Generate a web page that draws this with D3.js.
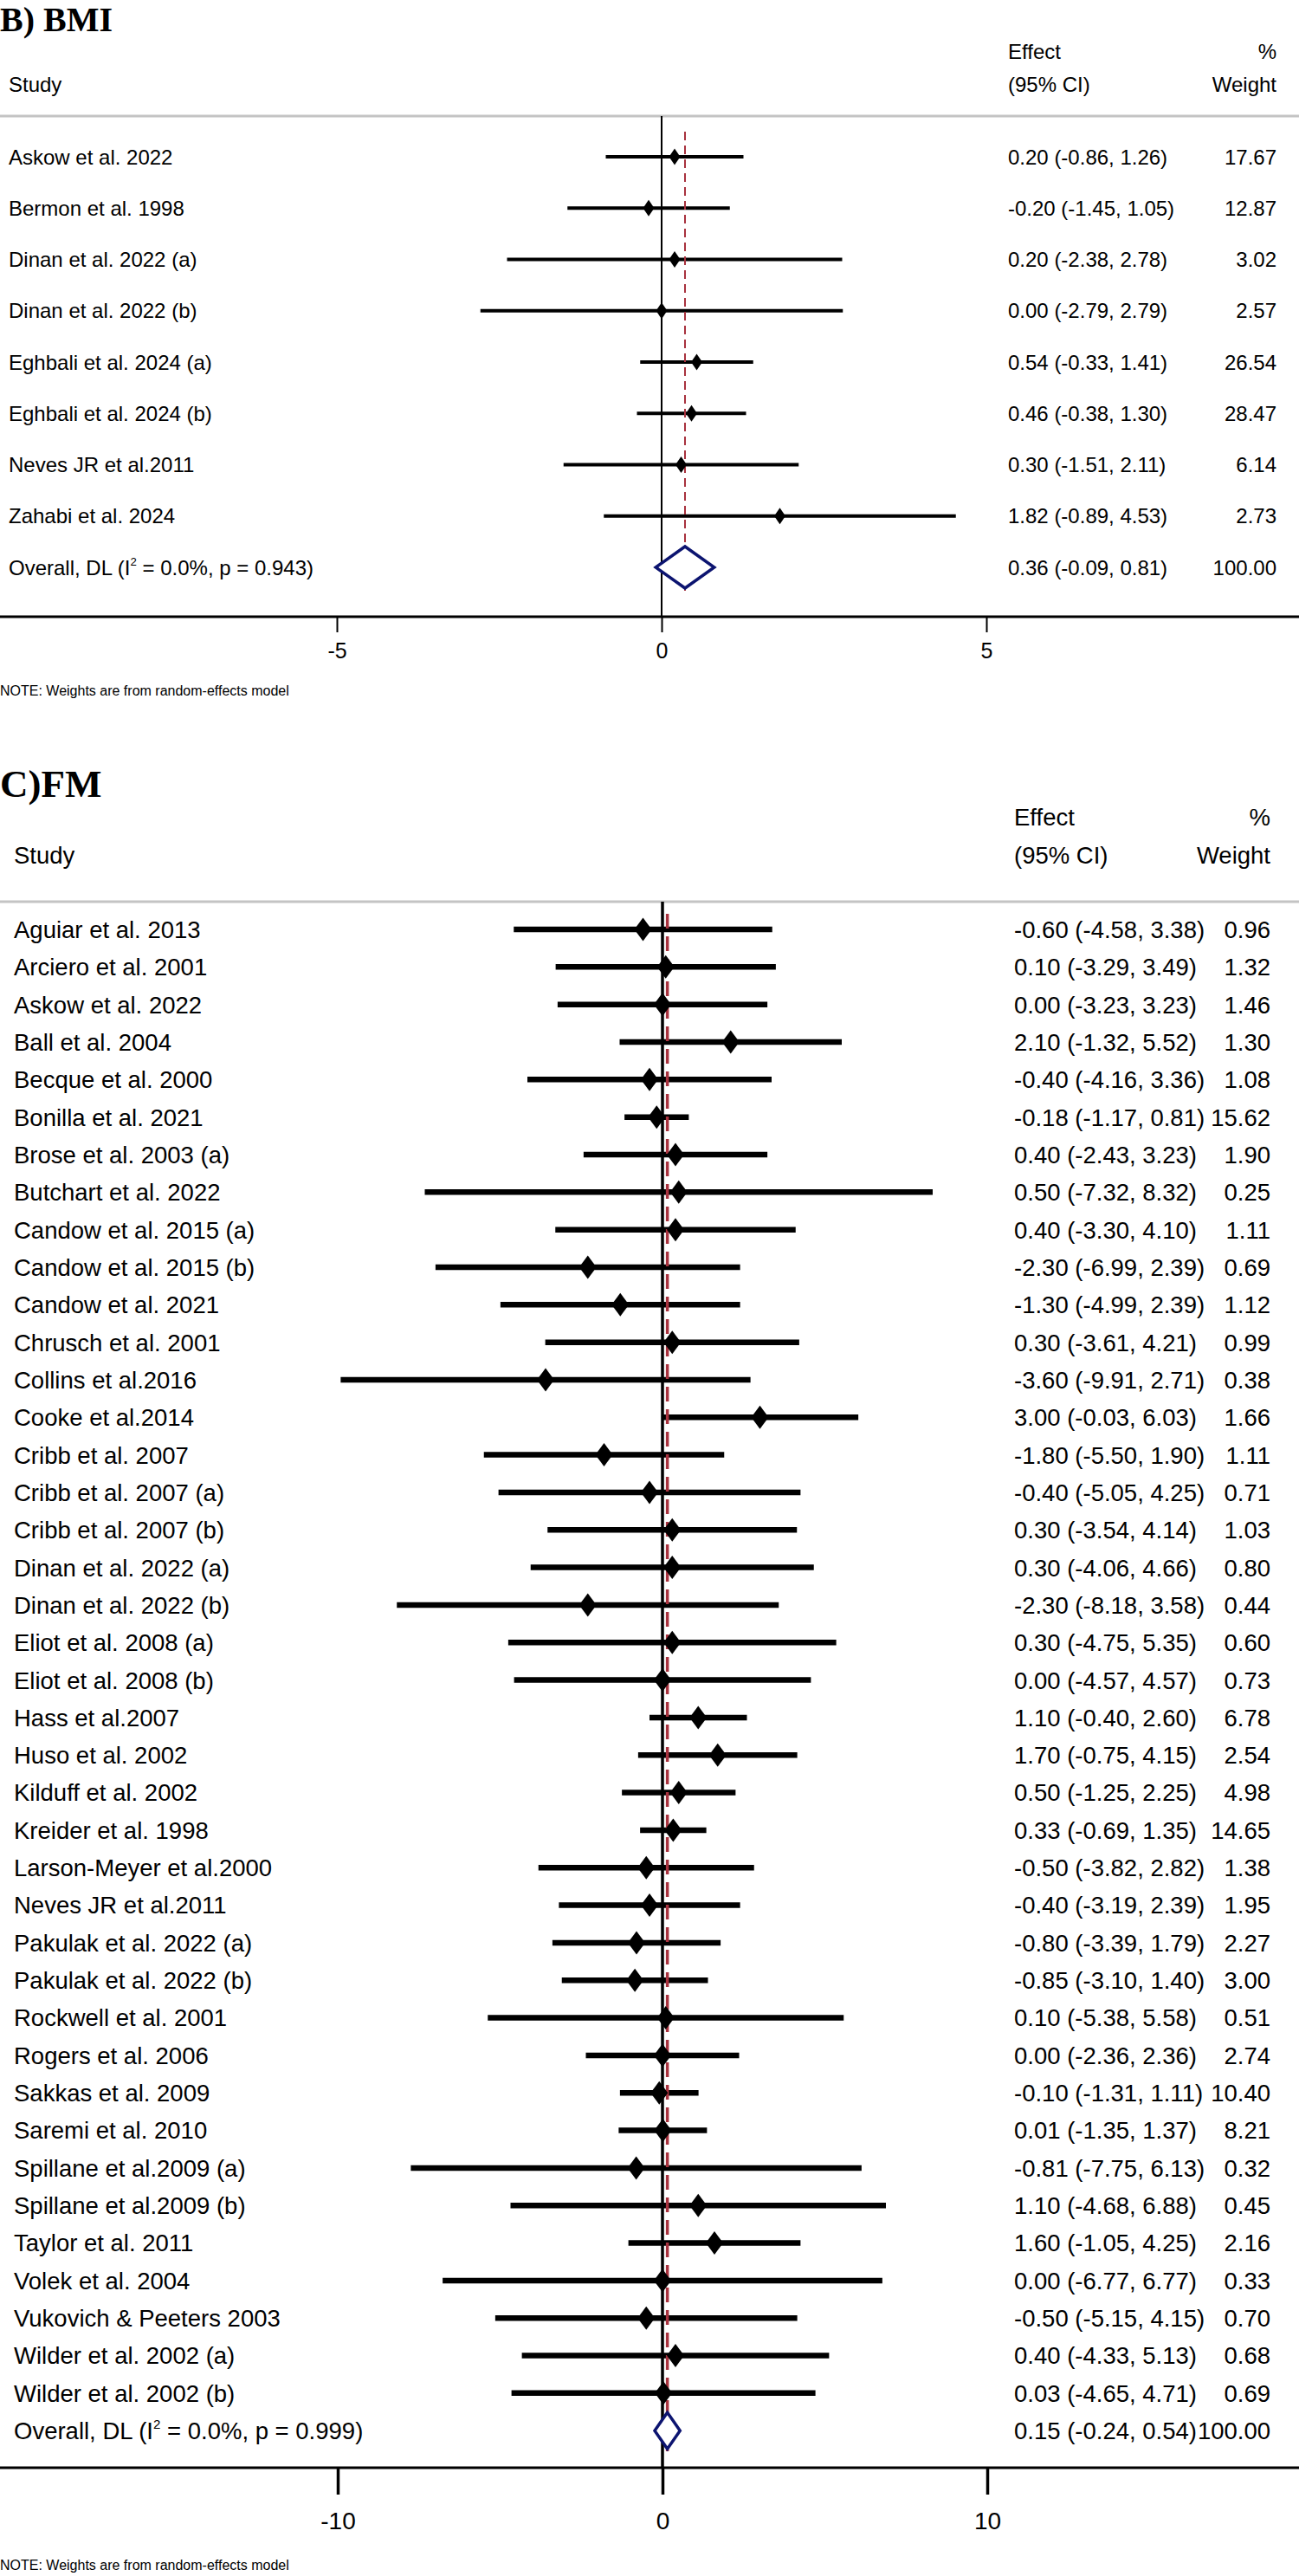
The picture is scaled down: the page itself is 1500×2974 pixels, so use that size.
<!DOCTYPE html>
<html>
<head>
<meta charset="utf-8">
<script src="https://cdn.jsdelivr.net/npm/d3@7"></script>
<style>
  body { margin: 0; background: #fff; }
  text { font-family: "Liberation Sans", Arial, sans-serif; fill: #000; }
</style>
</head>
<body>
<div id="chart-area"></div>
<script>
// ---- B) BMI data ----
const bmiStudies = ["Askow et al. 2022", "Bermon et al. 1998", "Dinan et al. 2022 (a)", "Dinan et al. 2022 (b)",
    "Eghbali et al. 2024 (a)", "Eghbali et al. 2024 (b)", "Neves JR et al.2011", "Zahabi et al. 2024"];
const bmiEffect = [0.20, -0.20, 0.20, 0.00, 0.54, 0.46, 0.30, 1.82];
const bmiLower = [-0.86, -1.45, -2.38, -2.79, -0.33, -0.38, -1.51, -0.89];
const bmiUpper = [1.26, 1.05, 2.78, 2.79, 1.41, 1.30, 2.11, 4.53];
const bmiWeight = [17.67, 12.87, 3.02, 2.57, 26.54, 28.47, 6.14, 2.73];
const bmiOverall = [0.36, -0.09, 0.81];
const bmiHet = ["0.0%", "0.943"];
const bmiTicks = [-5, 0, 5];

// ---- C) FM data ----
const fmStudies = ["Aguiar et al. 2013", "Arciero et al. 2001", "Askow et al. 2022", "Ball et al. 2004",
    "Becque et al. 2000", "Bonilla et al. 2021", "Brose et al. 2003 (a)", "Butchart et al. 2022",
    "Candow et al. 2015 (a)", "Candow et al. 2015 (b)", "Candow et al. 2021", "Chrusch et al. 2001",
    "Collins et al.2016", "Cooke et al.2014", "Cribb et al. 2007", "Cribb et al. 2007 (a)",
    "Cribb et al. 2007 (b)", "Dinan et al. 2022 (a)", "Dinan et al. 2022 (b)", "Eliot et al. 2008 (a)",
    "Eliot et al. 2008 (b)", "Hass et al.2007", "Huso et al. 2002", "Kilduff et al. 2002",
    "Kreider et al. 1998", "Larson-Meyer et al.2000", "Neves JR et al.2011", "Pakulak et al. 2022 (a)",
    "Pakulak et al. 2022 (b)", "Rockwell et al. 2001", "Rogers et al. 2006", "Sakkas et al. 2009",
    "Saremi et al. 2010", "Spillane et al.2009 (a)", "Spillane et al.2009 (b)", "Taylor et al. 2011",
    "Volek et al. 2004", "Vukovich & Peeters 2003", "Wilder et al. 2002 (a)", "Wilder et al. 2002 (b)"];
const fmEffect = [-0.60, 0.10, 0.00, 2.10, -0.40, -0.18, 0.40, 0.50, 0.40, -2.30, -1.30, 0.30, -3.60, 3.00,
    -1.80, -0.40, 0.30, 0.30, -2.30, 0.30, 0.00, 1.10, 1.70, 0.50, 0.33, -0.50, -0.40, -0.80, -0.85, 0.10,
    0.00, -0.10, 0.01, -0.81, 1.10, 1.60, 0.00, -0.50, 0.40, 0.03];
const fmLower = [-4.58, -3.29, -3.23, -1.32, -4.16, -1.17, -2.43, -7.32, -3.30, -6.99, -4.99, -3.61, -9.91,
    -0.03, -5.50, -5.05, -3.54, -4.06, -8.18, -4.75, -4.57, -0.40, -0.75, -1.25, -0.69, -3.82, -3.19, -3.39,
    -3.10, -5.38, -2.36, -1.31, -1.35, -7.75, -4.68, -1.05, -6.77, -5.15, -4.33, -4.65];
const fmUpper = [3.38, 3.49, 3.23, 5.52, 3.36, 0.81, 3.23, 8.32, 4.10, 2.39, 2.39, 4.21, 2.71, 6.03, 1.90,
    4.25, 4.14, 4.66, 3.58, 5.35, 4.57, 2.60, 4.15, 2.25, 1.35, 2.82, 2.39, 1.79, 1.40, 5.58, 2.36, 1.11,
    1.37, 6.13, 6.88, 4.25, 6.77, 4.15, 5.13, 4.71];
const fmWeight = [0.96, 1.32, 1.46, 1.30, 1.08, 15.62, 1.90, 0.25, 1.11, 0.69, 1.12, 0.99, 0.38, 1.66, 1.11,
    0.71, 1.03, 0.80, 0.44, 0.60, 0.73, 6.78, 2.54, 4.98, 14.65, 1.38, 1.95, 2.27, 3.00, 0.51, 2.74, 10.40,
    8.21, 0.32, 0.45, 2.16, 0.33, 0.70, 0.68, 0.69];
const fmOverall = [0.15, -0.24, 0.54];
const fmHet = ["0.0%", "0.999"];
const fmTicks = [-10, 0, 10];

const w = 1500;
const h = 2974;

const svg = d3.select("#chart-area")
    .append("svg")
    .attr("width", w)
    .attr("height", h);

const f2 = (v) => v.toFixed(2);

const drawPanel = (p) => {
    const g = svg.append("g");
    const n = p.studies.length;

    const xScale = d3.scaleLinear().domain(p.domain).range(p.range);
    const yScale = d3.scaleLinear().domain([0, n]).range([p.firstRow, p.firstRow + n * p.rowStep]);
    const base = (i) => yScale(i) + p.fs * 0.36;

    // title
    g.append("text")
        .attr("x", 0).attr("y", p.titleY)
        .style("font-family", "'Liberation Serif', 'Times New Roman', serif")
        .style("font-weight", "bold")
        .style("font-size", p.titleSize + "px")
        .text(p.title);

    // header
    const head = g.append("g").style("font-size", p.fs + "px");
    head.append("text").attr("x", p.labelX).attr("y", p.headY2).text("Study");
    head.append("text").attr("x", p.effX).attr("y", p.headY1).text("Effect");
    head.append("text").attr("x", p.effX).attr("y", p.headY2).text("(95% CI)");
    head.append("text").attr("x", p.wtX).attr("y", p.headY1).attr("text-anchor", "end").text("%");
    head.append("text").attr("x", p.wtX).attr("y", p.headY2).attr("text-anchor", "end").text("Weight");

    g.append("line")
        .attr("x1", 0).attr("x2", w)
        .attr("y1", p.sepY).attr("y2", p.sepY)
        .attr("stroke", "#c4c4c4").attr("stroke-width", 3);

    // null line
    g.append("line")
        .attr("x1", xScale(0)).attr("x2", xScale(0))
        .attr("y1", p.sepY).attr("y2", p.axisY)
        .attr("stroke", "#000").attr("stroke-width", p.zeroW);

    // CI lines
    g.selectAll(".ci")
        .data(p.effect)
        .enter()
        .append("line")
        .attr("class", "ci")
        .attr("x1", (d, i) => xScale(p.lower[i]))
        .attr("x2", (d, i) => xScale(p.upper[i]))
        .attr("y1", (d, i) => yScale(i))
        .attr("y2", (d, i) => yScale(i))
        .attr("stroke", "#000")
        .attr("stroke-width", p.ciWidth);

    // overall effect dashed line
    g.append("line")
        .attr("x1", xScale(p.overall[0])).attr("x2", xScale(p.overall[0]))
        .attr("y1", p.dashTop).attr("y2", p.dashBottom)
        .attr("stroke", "#a8323e")
        .attr("stroke-width", p.dashW)
        .attr("stroke-dasharray", p.dash);

    // point markers
    g.selectAll(".pt")
        .data(p.effect)
        .enter()
        .append("path")
        .attr("class", "pt")
        .attr("d", (d, i) => {
            const cx = xScale(d), cy = yScale(i);
            return "M" + (cx - p.dHalfW) + "," + cy + "L" + cx + "," + (cy - p.dHalfH) +
                "L" + (cx + p.dHalfW) + "," + cy + "L" + cx + "," + (cy + p.dHalfH) + "Z";
        })
        .attr("fill", "#000");

    // overall diamond
    const oy = yScale(n);
    g.append("path")
        .attr("d", "M" + xScale(p.overall[1]) + "," + oy +
            "L" + xScale(p.overall[0]) + "," + (oy - p.ovHalfH) +
            "L" + xScale(p.overall[2]) + "," + oy +
            "L" + xScale(p.overall[0]) + "," + (oy + p.ovHalfH) + "Z")
        .attr("fill", "#fff")
        .attr("stroke", "#0c1470")
        .attr("stroke-width", 3.5)
        .attr("stroke-linejoin", "miter");

    // row texts
    const rows = g.append("g").style("font-size", p.fs + "px");
    rows.selectAll(".lab")
        .data(p.studies)
        .enter()
        .append("text")
        .attr("x", p.labelX)
        .attr("y", (d, i) => base(i))
        .text((d) => d);
    rows.selectAll(".eff")
        .data(p.effect)
        .enter()
        .append("text")
        .attr("x", p.effX)
        .attr("y", (d, i) => base(i))
        .text((d, i) => f2(d) + " (" + f2(p.lower[i]) + ", " + f2(p.upper[i]) + ")");
    rows.selectAll(".wt")
        .data(p.weight)
        .enter()
        .append("text")
        .attr("x", p.wtX)
        .attr("y", (d, i) => base(i))
        .attr("text-anchor", "end")
        .text((d) => f2(d));

    const ov = rows.append("text").attr("x", p.labelX).attr("y", base(n));
    ov.append("tspan").text("Overall, DL (I");
    ov.append("tspan").attr("dy", -p.fs * 0.45).style("font-size", (p.fs * 0.55) + "px").text("2");
    ov.append("tspan").attr("dy", p.fs * 0.45).text(" = " + p.het[0] + ", p = " + p.het[1] + ")");
    rows.append("text").attr("x", p.effX).attr("y", base(n))
        .text(f2(p.overall[0]) + " (" + f2(p.overall[1]) + ", " + f2(p.overall[2]) + ")");
    rows.append("text").attr("x", p.wtX).attr("y", base(n)).attr("text-anchor", "end").text("100.00");

    // x axis
    const xAxis = d3.axisBottom(xScale)
        .tickValues(p.ticks)
        .tickSize(p.tickLen)
        .tickPadding(p.tickPad)
        .tickFormat(d3.format("d"));
    const ax = g.append("g")
        .attr("transform", "translate(0," + p.axisY + ")")
        .call(xAxis);
    ax.select(".domain").remove();
    ax.selectAll(".tick line").attr("stroke", "#000").attr("stroke-width", p.zeroW);
    ax.selectAll(".tick text")
        .style("font-family", "'Liberation Sans', Arial, sans-serif")
        .style("font-size", p.tickFs + "px")
        .attr("fill", "#000")
        .text((d) => d < 0 ? "-" + Math.abs(d) : d);
    g.append("line")
        .attr("x1", 0).attr("x2", w)
        .attr("y1", p.axisY).attr("y2", p.axisY)
        .attr("stroke", "#000").attr("stroke-width", 3);

    g.append("text")
        .attr("x", 0).attr("y", p.noteY)
        .style("font-size", p.noteFs + "px")
        .text("NOTE: Weights are from random-effects model");
};

drawPanel({
    title: "B) BMI", studies: bmiStudies, effect: bmiEffect, lower: bmiLower, upper: bmiUpper,
    weight: bmiWeight, overall: bmiOverall, het: bmiHet, ticks: bmiTicks,
    titleY: 36, titleSize: 40, headY1: 68, headY2: 106, sepY: 134,
    firstRow: 181, rowStep: 59.25, fs: 24, labelX: 10, effX: 1164, wtX: 1474,
    domain: [-5, 5], range: [389, 1139], axisY: 712, tickLen: 18, tickPad: 12, tickFs: 25,
    noteY: 803, noteFs: 16, ciWidth: 4, dHalfW: 6.5, dHalfH: 9.5, ovHalfH: 24,
    zeroW: 2, dashW: 2, dash: "10,6", dashTop: 152, dashBottom: 682
});

drawPanel({
    title: "C)FM", studies: fmStudies, effect: fmEffect, lower: fmLower, upper: fmUpper,
    weight: fmWeight, overall: fmOverall, het: fmHet, ticks: fmTicks,
    titleY: 920, titleSize: 45, headY1: 953, headY2: 997, sepY: 1041,
    firstRow: 1073, rowStep: 43.33, fs: 27.5, labelX: 16, effX: 1171, wtX: 1467,
    domain: [-10, 10], range: [390, 1140], axisY: 2849, tickLen: 31, tickPad: 20, tickFs: 28,
    noteY: 2967, noteFs: 16, ciWidth: 6.5, dHalfW: 10, dHalfH: 13.5, ovHalfH: 21,
    zeroW: 3.5, dashW: 3.5, dash: "17,9", dashTop: 1055, dashBottom: 2830
});
</script>
</body>
</html>
